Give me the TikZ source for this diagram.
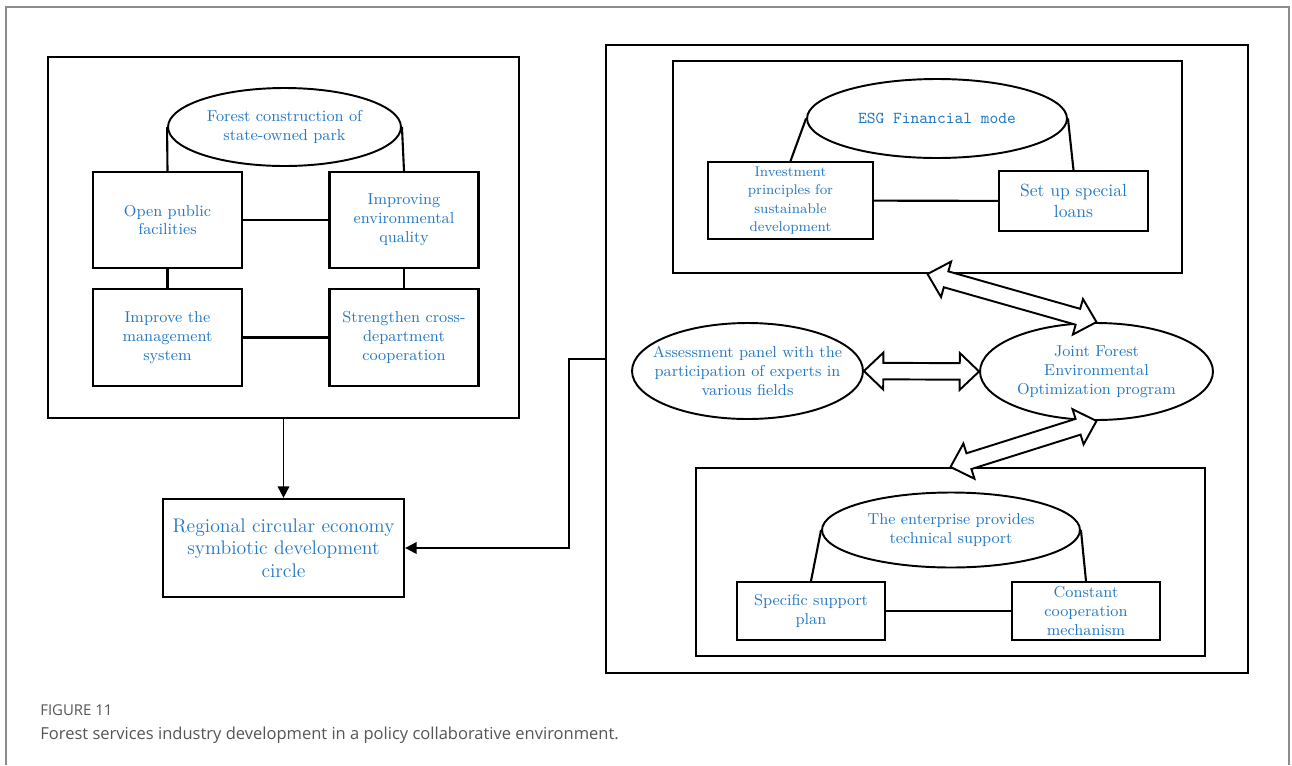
\documentclass[tikz,border=0pt]{standalone}
\usepackage{fontspec}
\newfontfamily\capfont{Open Sans}
\usetikzlibrary{shapes.geometric,calc,arrows.meta}
\definecolor{txtblue}{RGB}{35,120,195}
\definecolor{framegray}{RGB}{140,140,140}
\definecolor{capgray}{RGB}{85,85,85}
\tikzset{
  panel/.style={draw, line width=1.4pt, inner sep=0pt},
  box/.style={draw, line width=1.3pt, inner sep=0pt, align=center, text=txtblue,
    font=\fontsize{9}{10.8}\selectfont},
  oval/.style={draw, ellipse, line width=1.1pt, inner sep=-3cm, align=center, text=txtblue,
    font=\fontsize{9}{10.8}\selectfont},
  link/.style={line width=1.2pt},
  flow/.style={line width=1.1pt, -{Triangle[length=6.5pt,width=6.5pt]}},
  bigarrow/.style={draw, fill=white, line width=1.1pt, line join=miter, to path={
    -- ($(\tikztostart)!11pt!(\tikztotarget)!10.5pt!90:(\tikztotarget)$)
    -- ($(\tikztostart)!11pt!(\tikztotarget)!4.7pt!90:(\tikztotarget)$)
    -- ($(\tikztotarget)!11pt!(\tikztostart)!4.7pt!-90:(\tikztostart)$)
    -- ($(\tikztotarget)!11pt!(\tikztostart)!10.5pt!-90:(\tikztostart)$)
    -- (\tikztotarget)
    -- ($(\tikztotarget)!11pt!(\tikztostart)!10.5pt!90:(\tikztostart)$)
    -- ($(\tikztotarget)!11pt!(\tikztostart)!4.7pt!90:(\tikztostart)$)
    -- ($(\tikztostart)!11pt!(\tikztotarget)!4.7pt!-90:(\tikztotarget)$)
    -- ($(\tikztostart)!11pt!(\tikztotarget)!10.5pt!-90:(\tikztotarget)$)
    -- cycle}}
}
\begin{document}
\begin{tikzpicture}[x=0.02cm, y=-0.02cm]
  \useasboundingbox (0,0) rectangle (1292,765);
  % frame of the figure
  \draw[framegray, line width=0.6pt] (6,765) -- (6,7) -- (1289,7) -- (1289,765);

  % left panel
  \node[panel, minimum width=94.2mm, minimum height=72.2mm] (leftpanel) at (283.5,237.5) {};
  \node[oval, minimum width=46.6mm, minimum height=15.6mm] (forest) at (284.5,127) {Forest construction of\\state-owned park};
  \node[box, minimum width=29.8mm, minimum height=19.2mm] (open) at (167.5,220) {Open public\\facilities};
  \node[box, minimum width=29.8mm, minimum height=19.2mm] (improving) at (404,220) {Improving\\environmental\\quality};
  \node[box, minimum width=29.8mm, minimum height=19.4mm] (mgmt) at (167.5,337.5) {Improve the\\management\\system};
  \node[box, minimum width=29.8mm, minimum height=19.4mm] (strengthen) at (404,337.5) {Strengthen cross-\\department\\cooperation};
  \draw[link] (forest.west) -- (open.north);
  \draw[link] (forest.east) -- (improving.north);
  \draw[link] (open) -- (improving);
  \draw[link] (mgmt) -- (strengthen);
  \draw[link] (open) -- (mgmt);
  \draw[link] (improving) -- (strengthen);

  % result
  \node[box, minimum width=48.2mm, minimum height=19.6mm, font=\fontsize{11.2}{12.8}\selectfont] (regional) at (283.5,548) {Regional circular economy\\symbiotic development\\circle};
  \draw[flow] (leftpanel) -- (regional);

  % right panel
  \node[panel, line width=1.1pt, minimum width=128.4mm, minimum height=125.6mm] (rightpanel) at (927,359) {};
  \draw[flow] (rightpanel.west) -- ++(-36,0) |- (regional.east);

  % ESG
  \node[panel, line width=1.2pt, minimum width=101.8mm, minimum height=42.4mm] (esgpanel) at (927.5,167) {};
  \node[oval, minimum width=52mm, minimum height=15.8mm, font=\ttfamily\fontsize{9.5}{11}\selectfont] (esg) at (937,118.5) {ESG Financial mode};
  \node[box, line width=1.1pt, minimum width=33mm, minimum height=15.4mm, font=\fontsize{8}{10.4}\selectfont] (invest) at (790.5,200.5) {Investment\\principles for\\sustainable\\development};
  \node[box, line width=1.1pt, minimum width=29.8mm, minimum height=12mm, font=\fontsize{10}{12}\selectfont] (loans) at (1073.5,201) {Set up special\\loans};
  \draw[link] (esg.west) -- (invest.north);
  \draw[link] (esg.east) -- (loans.north);
  \draw[link] (invest) -- (loans);

  % program
  \node[oval, minimum width=46.2mm, minimum height=19.2mm] (assess) at (747.5,371) {Assessment panel with the\\participation of experts in\\various fields};
  \node[oval, minimum width=46.6mm, minimum height=19.4mm] (joint) at (1096.5,371.5) {Joint Forest\\Environmental\\Optimization program};

  % enterprise
  \node[panel, line width=1.2pt, minimum width=101.8mm, minimum height=37.6mm] (entpanel) at (950.5,562) {};
  \node[oval, minimum width=51.6mm, minimum height=15mm] (enterprise) at (951,530) {The enterprise provides\\technical support};
  \node[box, line width=1.1pt, minimum width=29.6mm, minimum height=11.6mm] (specific) at (811,611) {Specific support\\plan};
  \node[box, line width=1.1pt, minimum width=29.6mm, minimum height=11.6mm] (constant) at (1086,611) {Constant\\cooperation\\mechanism};
  \draw[link] (enterprise.west) -- (specific.north);
  \draw[link] (enterprise.east) -- (constant.north);
  \draw[link] (specific) -- (constant);

  % hollow double arrows
  \draw[bigarrow] (esgpanel.south) to (joint.north);
  \draw[bigarrow] (assess.east) to (joint.west);
  \draw[bigarrow] (joint.south) to (entpanel.north);

  % caption
  \node[anchor=west, inner sep=0pt, text=capgray, font=\capfont\fontsize{8.5}{10}\selectfont] (figno) at (40,710) {FIGURE 11};
  \node[anchor=west, inner sep=0pt, text=capgray, font=\capfont\fontsize{9.4}{11}\selectfont] (caption) at (40,735) {Forest services industry development in a policy collaborative environment.};
\end{tikzpicture}
\end{document}
